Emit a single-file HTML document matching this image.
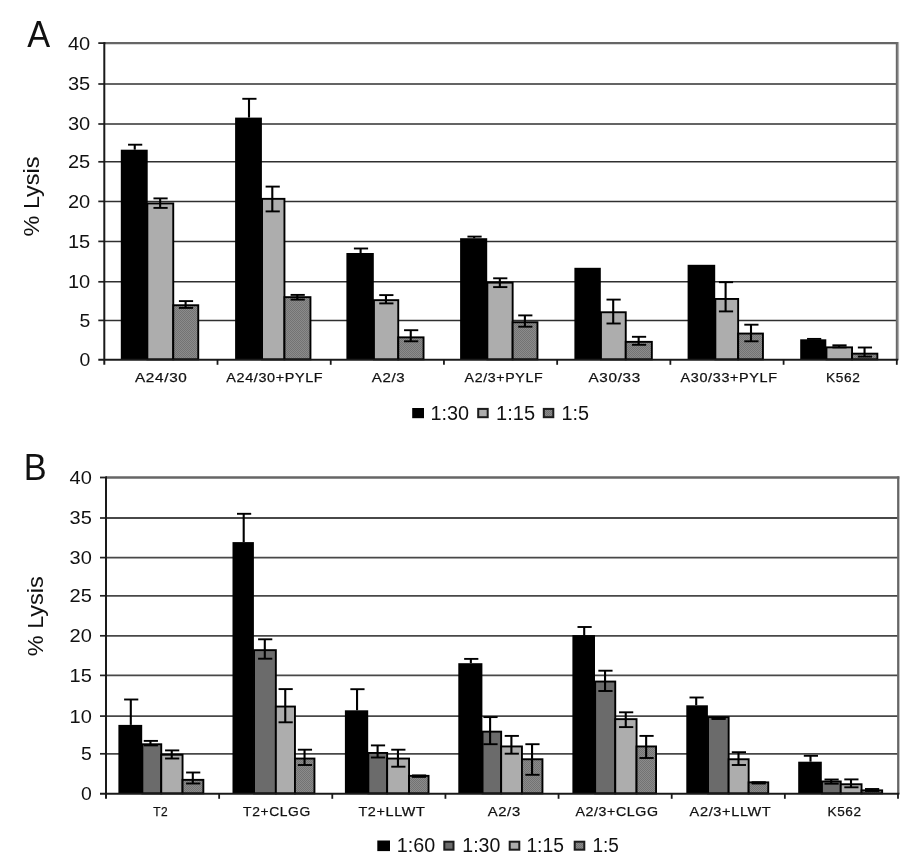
<!DOCTYPE html>
<html><head><meta charset="utf-8"><title>Figure</title>
<style>
html,body{margin:0;padding:0;background:#fff;}
body{width:917px;height:860px;overflow:hidden;font-family:"Liberation Sans", sans-serif;}
svg{display:block;position:absolute;left:0;top:0;will-change:transform;}
svg text{font-family:"Liberation Sans", sans-serif;fill:#111;}
</style></head>
<body>
<svg width="917" height="860" viewBox="0 0 917 860">
<defs>
<pattern id="tex" width="2" height="2" patternUnits="userSpaceOnUse">
<rect width="2" height="2" fill="#8b8b8b"/>
<rect width="1" height="1" fill="#737373"/>
<rect x="1" y="1" width="1" height="1" fill="#737373"/>
</pattern>
</defs>
<rect width="917" height="860" fill="#fff"/>
<line x1="104.3" y1="84.0" x2="896.8" y2="84.0" stroke="#303030" stroke-width="1.55"/>
<line x1="98.3" y1="84.0" x2="104.3" y2="84.0" stroke="#222" stroke-width="1.7"/>
<line x1="104.3" y1="124.0" x2="896.8" y2="124.0" stroke="#303030" stroke-width="1.55"/>
<line x1="98.3" y1="124.0" x2="104.3" y2="124.0" stroke="#222" stroke-width="1.7"/>
<line x1="104.3" y1="161.8" x2="896.8" y2="161.8" stroke="#303030" stroke-width="1.55"/>
<line x1="98.3" y1="161.8" x2="104.3" y2="161.8" stroke="#222" stroke-width="1.7"/>
<line x1="104.3" y1="201.4" x2="896.8" y2="201.4" stroke="#303030" stroke-width="1.55"/>
<line x1="98.3" y1="201.4" x2="104.3" y2="201.4" stroke="#222" stroke-width="1.7"/>
<line x1="104.3" y1="241.4" x2="896.8" y2="241.4" stroke="#303030" stroke-width="1.55"/>
<line x1="98.3" y1="241.4" x2="104.3" y2="241.4" stroke="#222" stroke-width="1.7"/>
<line x1="104.3" y1="281.8" x2="896.8" y2="281.8" stroke="#303030" stroke-width="1.55"/>
<line x1="98.3" y1="281.8" x2="104.3" y2="281.8" stroke="#222" stroke-width="1.7"/>
<line x1="104.3" y1="320.4" x2="896.8" y2="320.4" stroke="#303030" stroke-width="1.55"/>
<line x1="98.3" y1="320.4" x2="104.3" y2="320.4" stroke="#222" stroke-width="1.7"/>
<line x1="104.3" y1="43.1" x2="898.0999999999999" y2="43.1" stroke="#666" stroke-width="2.3"/>
<rect x="895.8" y="42.0" width="2.1" height="317.8" fill="#686868"/>
<rect x="897.9" y="42.0" width="1.2" height="317.8" fill="#b0b0b0"/>
<line x1="98.3" y1="43.1" x2="105.3" y2="43.1" stroke="#222" stroke-width="1.8"/>
<rect x="120.8" y="149.7" width="26.90" height="210.10" fill="#000"/>
<rect x="147.35" y="203.45" width="25.90" height="155.90" fill="#adadad" stroke="#000" stroke-width="1.9"/>
<rect x="173.25" y="305.25" width="25.00" height="54.10" fill="url(#tex)" stroke="#000" stroke-width="1.9"/>
<rect x="235.1" y="117.6" width="26.80" height="242.20" fill="#000"/>
<rect x="262.05" y="198.85" width="22.40" height="160.50" fill="#adadad" stroke="#000" stroke-width="1.9"/>
<rect x="284.45" y="297.15" width="26.00" height="62.20" fill="url(#tex)" stroke="#000" stroke-width="1.9"/>
<rect x="346.4" y="253.0" width="27.40" height="106.80" fill="#000"/>
<rect x="373.95" y="300.15" width="24.30" height="59.20" fill="#adadad" stroke="#000" stroke-width="1.9"/>
<rect x="398.25" y="337.35" width="25.30" height="22.00" fill="url(#tex)" stroke="#000" stroke-width="1.9"/>
<rect x="460.1" y="238.2" width="27.10" height="121.60" fill="#000"/>
<rect x="487.35" y="282.65" width="25.30" height="76.70" fill="#adadad" stroke="#000" stroke-width="1.9"/>
<rect x="512.65" y="322.25" width="24.80" height="37.10" fill="url(#tex)" stroke="#000" stroke-width="1.9"/>
<rect x="574.4" y="267.8" width="26.40" height="92.00" fill="#000"/>
<rect x="600.95" y="312.25" width="24.80" height="47.10" fill="#adadad" stroke="#000" stroke-width="1.9"/>
<rect x="625.75" y="341.85" width="26.10" height="17.50" fill="url(#tex)" stroke="#000" stroke-width="1.9"/>
<rect x="687.6" y="264.8" width="27.60" height="95.00" fill="#000"/>
<rect x="715.35" y="298.95" width="22.80" height="60.40" fill="#adadad" stroke="#000" stroke-width="1.9"/>
<rect x="738.15" y="333.55" width="24.80" height="25.80" fill="url(#tex)" stroke="#000" stroke-width="1.9"/>
<rect x="800.2" y="339.3" width="26.10" height="20.50" fill="#000"/>
<rect x="826.45" y="347.35" width="25.60" height="12.00" fill="#adadad" stroke="#000" stroke-width="1.9"/>
<rect x="852.05" y="353.65" width="25.30" height="5.70" fill="url(#tex)" stroke="#000" stroke-width="1.9"/>
<line x1="134.75" y1="144.7" x2="134.75" y2="149.7" stroke="#000" stroke-width="2.1"/>
<line x1="128.05" y1="144.7" x2="142.25" y2="144.7" stroke="#000" stroke-width="1.9"/>
<line x1="160.15" y1="198.4" x2="160.15" y2="207.9" stroke="#000" stroke-width="2.1"/>
<line x1="153.45" y1="198.4" x2="167.65" y2="198.4" stroke="#000" stroke-width="1.9"/>
<line x1="153.45" y1="207.9" x2="167.65" y2="207.9" stroke="#000" stroke-width="1.9"/>
<line x1="185.60" y1="301.1" x2="185.60" y2="307.9" stroke="#000" stroke-width="2.1"/>
<line x1="178.90" y1="301.1" x2="193.10" y2="301.1" stroke="#000" stroke-width="1.9"/>
<line x1="178.90" y1="307.9" x2="193.10" y2="307.9" stroke="#000" stroke-width="1.9"/>
<line x1="249.00" y1="98.8" x2="249.00" y2="117.6" stroke="#000" stroke-width="2.1"/>
<line x1="242.30" y1="98.8" x2="256.50" y2="98.8" stroke="#000" stroke-width="1.9"/>
<line x1="272.30" y1="186.6" x2="272.30" y2="211.4" stroke="#000" stroke-width="2.1"/>
<line x1="265.60" y1="186.6" x2="279.80" y2="186.6" stroke="#000" stroke-width="1.9"/>
<line x1="265.60" y1="211.4" x2="279.80" y2="211.4" stroke="#000" stroke-width="1.9"/>
<line x1="297.30" y1="294.9" x2="297.30" y2="299.6" stroke="#000" stroke-width="2.1"/>
<line x1="290.60" y1="294.9" x2="304.80" y2="294.9" stroke="#000" stroke-width="1.9"/>
<line x1="290.60" y1="299.6" x2="304.80" y2="299.6" stroke="#000" stroke-width="1.9"/>
<line x1="360.60" y1="248.5" x2="360.60" y2="253.0" stroke="#000" stroke-width="2.1"/>
<line x1="353.90" y1="248.5" x2="368.10" y2="248.5" stroke="#000" stroke-width="1.9"/>
<line x1="385.95" y1="295.1" x2="385.95" y2="303.4" stroke="#000" stroke-width="2.1"/>
<line x1="379.25" y1="295.1" x2="393.45" y2="295.1" stroke="#000" stroke-width="1.9"/>
<line x1="379.25" y1="303.4" x2="393.45" y2="303.4" stroke="#000" stroke-width="1.9"/>
<line x1="410.75" y1="330.2" x2="410.75" y2="341.3" stroke="#000" stroke-width="2.1"/>
<line x1="404.05" y1="330.2" x2="418.25" y2="330.2" stroke="#000" stroke-width="1.9"/>
<line x1="404.05" y1="341.3" x2="418.25" y2="341.3" stroke="#000" stroke-width="1.9"/>
<line x1="474.15" y1="236.6" x2="474.15" y2="238.2" stroke="#000" stroke-width="2.1"/>
<line x1="467.45" y1="236.6" x2="481.65" y2="236.6" stroke="#000" stroke-width="1.9"/>
<line x1="499.85" y1="278.3" x2="499.85" y2="287.1" stroke="#000" stroke-width="2.1"/>
<line x1="493.15" y1="278.3" x2="507.35" y2="278.3" stroke="#000" stroke-width="1.9"/>
<line x1="493.15" y1="287.1" x2="507.35" y2="287.1" stroke="#000" stroke-width="1.9"/>
<line x1="524.90" y1="315.4" x2="524.90" y2="326.7" stroke="#000" stroke-width="2.1"/>
<line x1="518.20" y1="315.4" x2="532.40" y2="315.4" stroke="#000" stroke-width="1.9"/>
<line x1="518.20" y1="326.7" x2="532.40" y2="326.7" stroke="#000" stroke-width="1.9"/>
<line x1="613.20" y1="299.6" x2="613.20" y2="323.5" stroke="#000" stroke-width="2.1"/>
<line x1="606.50" y1="299.6" x2="620.70" y2="299.6" stroke="#000" stroke-width="1.9"/>
<line x1="606.50" y1="323.5" x2="620.70" y2="323.5" stroke="#000" stroke-width="1.9"/>
<line x1="638.65" y1="336.8" x2="638.65" y2="344.8" stroke="#000" stroke-width="2.1"/>
<line x1="631.95" y1="336.8" x2="646.15" y2="336.8" stroke="#000" stroke-width="1.9"/>
<line x1="631.95" y1="344.8" x2="646.15" y2="344.8" stroke="#000" stroke-width="1.9"/>
<line x1="725.60" y1="282.2" x2="725.60" y2="311.4" stroke="#000" stroke-width="2.1"/>
<line x1="718.90" y1="282.2" x2="733.10" y2="282.2" stroke="#000" stroke-width="1.9"/>
<line x1="718.90" y1="311.4" x2="733.10" y2="311.4" stroke="#000" stroke-width="1.9"/>
<line x1="751.00" y1="324.7" x2="751.00" y2="341.3" stroke="#000" stroke-width="2.1"/>
<line x1="744.30" y1="324.7" x2="758.50" y2="324.7" stroke="#000" stroke-width="1.9"/>
<line x1="744.30" y1="341.3" x2="758.50" y2="341.3" stroke="#000" stroke-width="1.9"/>
<line x1="813.75" y1="338.9" x2="813.75" y2="339.3" stroke="#000" stroke-width="2.1"/>
<line x1="807.05" y1="338.9" x2="821.25" y2="338.9" stroke="#000" stroke-width="1.9"/>
<line x1="839.10" y1="345.3" x2="839.10" y2="347.4" stroke="#000" stroke-width="2.1"/>
<line x1="832.40" y1="345.3" x2="846.60" y2="345.3" stroke="#000" stroke-width="1.9"/>
<line x1="832.40" y1="347.4" x2="846.60" y2="347.4" stroke="#000" stroke-width="1.9"/>
<line x1="864.55" y1="347.5" x2="864.55" y2="356.6" stroke="#000" stroke-width="2.1"/>
<line x1="857.85" y1="347.5" x2="872.05" y2="347.5" stroke="#000" stroke-width="1.9"/>
<line x1="857.85" y1="356.6" x2="872.05" y2="356.6" stroke="#000" stroke-width="1.9"/>
<line x1="104.3" y1="42.2" x2="104.3" y2="364.8" stroke="#1a1a1a" stroke-width="2"/>
<line x1="98.3" y1="359.8" x2="898.1999999999999" y2="359.8" stroke="#1a1a1a" stroke-width="1.9"/>
<line x1="217.51" y1="359.8" x2="217.51" y2="364.8" stroke="#1a1a1a" stroke-width="1.8"/>
<line x1="330.73" y1="359.8" x2="330.73" y2="364.8" stroke="#1a1a1a" stroke-width="1.8"/>
<line x1="443.94" y1="359.8" x2="443.94" y2="364.8" stroke="#1a1a1a" stroke-width="1.8"/>
<line x1="557.16" y1="359.8" x2="557.16" y2="364.8" stroke="#1a1a1a" stroke-width="1.8"/>
<line x1="670.37" y1="359.8" x2="670.37" y2="364.8" stroke="#1a1a1a" stroke-width="1.8"/>
<line x1="783.59" y1="359.8" x2="783.59" y2="364.8" stroke="#1a1a1a" stroke-width="1.8"/>
<line x1="896.80" y1="359.8" x2="896.80" y2="364.8" stroke="#1a1a1a" stroke-width="1.8"/>
<text x="90.2" y="49.5" font-size="17.6" text-anchor="end" textLength="22.3" lengthAdjust="spacingAndGlyphs">40</text>
<text x="90.2" y="90.4" font-size="17.6" text-anchor="end" textLength="22.3" lengthAdjust="spacingAndGlyphs">35</text>
<text x="90.2" y="130.4" font-size="17.6" text-anchor="end" textLength="22.3" lengthAdjust="spacingAndGlyphs">30</text>
<text x="90.2" y="168.2" font-size="17.6" text-anchor="end" textLength="22.3" lengthAdjust="spacingAndGlyphs">25</text>
<text x="90.2" y="207.8" font-size="17.6" text-anchor="end" textLength="22.3" lengthAdjust="spacingAndGlyphs">20</text>
<text x="90.2" y="247.8" font-size="17.6" text-anchor="end" textLength="22.3" lengthAdjust="spacingAndGlyphs">15</text>
<text x="90.2" y="288.2" font-size="17.6" text-anchor="end" textLength="22.3" lengthAdjust="spacingAndGlyphs">10</text>
<text x="90.2" y="326.8" font-size="17.6" text-anchor="end" textLength="10.8" lengthAdjust="spacingAndGlyphs">5</text>
<text x="90.2" y="366.2" font-size="17.6" text-anchor="end" textLength="10.8" lengthAdjust="spacingAndGlyphs">0</text>
<text x="135.0" y="382.4" font-size="13.6" letter-spacing="0.6" stroke="#111" stroke-width="0.25" textLength="52.5" lengthAdjust="spacingAndGlyphs">A24/30</text>
<text x="226.3" y="382.4" font-size="13.6" letter-spacing="0.6" stroke="#111" stroke-width="0.25" textLength="97.0" lengthAdjust="spacingAndGlyphs">A24/30+PYLF</text>
<text x="371.7" y="382.4" font-size="13.6" letter-spacing="0.6" stroke="#111" stroke-width="0.25" textLength="33.6" lengthAdjust="spacingAndGlyphs">A2/3</text>
<text x="464.6" y="382.4" font-size="13.6" letter-spacing="0.6" stroke="#111" stroke-width="0.25" textLength="78.7" lengthAdjust="spacingAndGlyphs">A2/3+PYLF</text>
<text x="588.5" y="382.4" font-size="13.6" letter-spacing="0.6" stroke="#111" stroke-width="0.25" textLength="52.4" lengthAdjust="spacingAndGlyphs">A30/33</text>
<text x="680.6" y="382.4" font-size="13.6" letter-spacing="0.6" stroke="#111" stroke-width="0.25" textLength="97.0" lengthAdjust="spacingAndGlyphs">A30/33+PYLF</text>
<text x="826.0" y="382.4" font-size="13.6" letter-spacing="0.6" stroke="#111" stroke-width="0.25" textLength="34.4" lengthAdjust="spacingAndGlyphs">K562</text>
<text transform="translate(39.3,196.5) rotate(-90)" font-size="22.2" text-anchor="middle" textLength="80" lengthAdjust="spacingAndGlyphs">% Lysis</text>
<text transform="translate(27.2,46.6) scale(0.91,1)" font-size="37.7">A</text>
<rect x="412.2" y="408.0" width="11.8" height="10.2" fill="#000"/>
<text x="430.54" y="419.5" font-size="19.3" textLength="38.59" lengthAdjust="spacingAndGlyphs">1:30</text>
<rect x="478.2" y="408.9" width="9.5" height="8.3" fill="#adadad" stroke="#1c1c1c" stroke-width="2.0"/>
<text x="496.12" y="419.5" font-size="19.3" textLength="38.99" lengthAdjust="spacingAndGlyphs">1:15</text>
<rect x="543.8" y="408.9" width="9.5" height="8.3" fill="url(#tex)" stroke="#1c1c1c" stroke-width="2.0"/>
<text x="561.44" y="419.5" font-size="19.3" textLength="27.55" lengthAdjust="spacingAndGlyphs">1:5</text>
<line x1="106.0" y1="518.0" x2="898.0" y2="518.0" stroke="#484848" stroke-width="1.85"/>
<line x1="100.0" y1="518.0" x2="106.0" y2="518.0" stroke="#222" stroke-width="1.7"/>
<line x1="106.0" y1="557.6" x2="898.0" y2="557.6" stroke="#484848" stroke-width="1.85"/>
<line x1="100.0" y1="557.6" x2="106.0" y2="557.6" stroke="#222" stroke-width="1.7"/>
<line x1="106.0" y1="595.8" x2="898.0" y2="595.8" stroke="#484848" stroke-width="1.85"/>
<line x1="100.0" y1="595.8" x2="106.0" y2="595.8" stroke="#222" stroke-width="1.7"/>
<line x1="106.0" y1="635.8" x2="898.0" y2="635.8" stroke="#484848" stroke-width="1.85"/>
<line x1="100.0" y1="635.8" x2="106.0" y2="635.8" stroke="#222" stroke-width="1.7"/>
<line x1="106.0" y1="675.4" x2="898.0" y2="675.4" stroke="#484848" stroke-width="1.85"/>
<line x1="100.0" y1="675.4" x2="106.0" y2="675.4" stroke="#222" stroke-width="1.7"/>
<line x1="106.0" y1="716.1" x2="898.0" y2="716.1" stroke="#484848" stroke-width="1.85"/>
<line x1="100.0" y1="716.1" x2="106.0" y2="716.1" stroke="#222" stroke-width="1.7"/>
<line x1="106.0" y1="753.8" x2="898.0" y2="753.8" stroke="#484848" stroke-width="1.85"/>
<line x1="100.0" y1="753.8" x2="106.0" y2="753.8" stroke="#222" stroke-width="1.7"/>
<line x1="106.0" y1="477.5" x2="899.3" y2="477.5" stroke="#666" stroke-width="2.3"/>
<rect x="897.1" y="476.4" width="2.3" height="317.4" fill="#666"/>
<line x1="100.0" y1="477.5" x2="107.0" y2="477.5" stroke="#222" stroke-width="1.8"/>
<rect x="118.4" y="724.9" width="23.80" height="68.90" fill="#000"/>
<rect x="142.35" y="744.25" width="18.90" height="49.10" fill="#6b6b6b" stroke="#000" stroke-width="1.9"/>
<rect x="161.25" y="754.75" width="21.30" height="38.60" fill="#adadad" stroke="#000" stroke-width="1.9"/>
<rect x="182.55" y="779.85" width="20.80" height="13.50" fill="url(#tex)" stroke="#000" stroke-width="1.9"/>
<rect x="232.5" y="542.1" width="21.40" height="251.70" fill="#000"/>
<rect x="254.05" y="650.15" width="21.80" height="143.20" fill="#6b6b6b" stroke="#000" stroke-width="1.9"/>
<rect x="275.85" y="706.55" width="19.10" height="86.80" fill="#adadad" stroke="#000" stroke-width="1.9"/>
<rect x="294.95" y="758.55" width="19.50" height="34.80" fill="url(#tex)" stroke="#000" stroke-width="1.9"/>
<rect x="344.9" y="710.3" width="23.30" height="83.50" fill="#000"/>
<rect x="368.35" y="752.95" width="18.80" height="40.40" fill="#6b6b6b" stroke="#000" stroke-width="1.9"/>
<rect x="387.15" y="758.55" width="21.90" height="34.80" fill="#adadad" stroke="#000" stroke-width="1.9"/>
<rect x="409.05" y="775.85" width="19.50" height="17.50" fill="url(#tex)" stroke="#000" stroke-width="1.9"/>
<rect x="458.3" y="663.2" width="24.10" height="130.60" fill="#000"/>
<rect x="482.55" y="731.65" width="18.60" height="61.70" fill="#6b6b6b" stroke="#000" stroke-width="1.9"/>
<rect x="501.15" y="746.45" width="20.80" height="46.90" fill="#adadad" stroke="#000" stroke-width="1.9"/>
<rect x="521.95" y="759.25" width="20.50" height="34.10" fill="url(#tex)" stroke="#000" stroke-width="1.9"/>
<rect x="572.4" y="635.1" width="22.60" height="158.70" fill="#000"/>
<rect x="595.15" y="681.55" width="20.10" height="111.80" fill="#6b6b6b" stroke="#000" stroke-width="1.9"/>
<rect x="615.25" y="719.15" width="21.30" height="74.20" fill="#adadad" stroke="#000" stroke-width="1.9"/>
<rect x="636.55" y="746.45" width="19.50" height="46.90" fill="url(#tex)" stroke="#000" stroke-width="1.9"/>
<rect x="686.3" y="705.3" width="21.60" height="88.50" fill="#000"/>
<rect x="708.05" y="717.15" width="20.60" height="76.20" fill="#6b6b6b" stroke="#000" stroke-width="1.9"/>
<rect x="728.65" y="759.25" width="20.00" height="34.10" fill="#adadad" stroke="#000" stroke-width="1.9"/>
<rect x="748.65" y="782.35" width="19.60" height="11.00" fill="url(#tex)" stroke="#000" stroke-width="1.9"/>
<rect x="798.2" y="761.7" width="23.60" height="32.10" fill="#000"/>
<rect x="821.95" y="781.45" width="18.80" height="11.90" fill="#6b6b6b" stroke="#000" stroke-width="1.9"/>
<rect x="840.75" y="784.25" width="20.80" height="9.10" fill="#adadad" stroke="#000" stroke-width="1.9"/>
<rect x="861.55" y="790.35" width="20.60" height="3.00" fill="url(#tex)" stroke="#000" stroke-width="1.9"/>
<line x1="130.80" y1="699.5" x2="130.80" y2="724.9" stroke="#000" stroke-width="2.1"/>
<line x1="124.10" y1="699.5" x2="138.30" y2="699.5" stroke="#000" stroke-width="1.9"/>
<line x1="150.45" y1="740.9" x2="150.45" y2="745.4" stroke="#000" stroke-width="2.1"/>
<line x1="143.75" y1="740.9" x2="157.95" y2="740.9" stroke="#000" stroke-width="1.9"/>
<line x1="143.75" y1="745.4" x2="157.95" y2="745.4" stroke="#000" stroke-width="1.9"/>
<line x1="171.75" y1="750.4" x2="171.75" y2="758.5" stroke="#000" stroke-width="2.1"/>
<line x1="165.05" y1="750.4" x2="179.25" y2="750.4" stroke="#000" stroke-width="1.9"/>
<line x1="165.05" y1="758.5" x2="179.25" y2="758.5" stroke="#000" stroke-width="1.9"/>
<line x1="192.80" y1="772.5" x2="192.80" y2="783.5" stroke="#000" stroke-width="2.1"/>
<line x1="186.10" y1="772.5" x2="200.30" y2="772.5" stroke="#000" stroke-width="1.9"/>
<line x1="186.10" y1="783.5" x2="200.30" y2="783.5" stroke="#000" stroke-width="1.9"/>
<line x1="243.70" y1="513.8" x2="243.70" y2="542.1" stroke="#000" stroke-width="2.1"/>
<line x1="237.00" y1="513.8" x2="251.20" y2="513.8" stroke="#000" stroke-width="1.9"/>
<line x1="264.80" y1="639.3" x2="264.80" y2="658.7" stroke="#000" stroke-width="2.1"/>
<line x1="258.10" y1="639.3" x2="272.30" y2="639.3" stroke="#000" stroke-width="1.9"/>
<line x1="258.10" y1="658.7" x2="272.30" y2="658.7" stroke="#000" stroke-width="1.9"/>
<line x1="285.25" y1="689.1" x2="285.25" y2="722.3" stroke="#000" stroke-width="2.1"/>
<line x1="278.55" y1="689.1" x2="292.75" y2="689.1" stroke="#000" stroke-width="1.9"/>
<line x1="278.55" y1="722.3" x2="292.75" y2="722.3" stroke="#000" stroke-width="1.9"/>
<line x1="304.55" y1="749.7" x2="304.55" y2="765.0" stroke="#000" stroke-width="2.1"/>
<line x1="297.85" y1="749.7" x2="312.05" y2="749.7" stroke="#000" stroke-width="1.9"/>
<line x1="297.85" y1="765.0" x2="312.05" y2="765.0" stroke="#000" stroke-width="1.9"/>
<line x1="357.05" y1="689.2" x2="357.05" y2="710.3" stroke="#000" stroke-width="2.1"/>
<line x1="350.35" y1="689.2" x2="364.55" y2="689.2" stroke="#000" stroke-width="1.9"/>
<line x1="377.60" y1="745.4" x2="377.60" y2="757.5" stroke="#000" stroke-width="2.1"/>
<line x1="370.90" y1="745.4" x2="385.10" y2="745.4" stroke="#000" stroke-width="1.9"/>
<line x1="370.90" y1="757.5" x2="385.10" y2="757.5" stroke="#000" stroke-width="1.9"/>
<line x1="397.95" y1="749.7" x2="397.95" y2="766.7" stroke="#000" stroke-width="2.1"/>
<line x1="391.25" y1="749.7" x2="405.45" y2="749.7" stroke="#000" stroke-width="1.9"/>
<line x1="391.25" y1="766.7" x2="405.45" y2="766.7" stroke="#000" stroke-width="1.9"/>
<line x1="418.65" y1="775.4" x2="418.65" y2="776.9" stroke="#000" stroke-width="2.1"/>
<line x1="411.95" y1="775.4" x2="426.15" y2="775.4" stroke="#000" stroke-width="1.9"/>
<line x1="411.95" y1="776.9" x2="426.15" y2="776.9" stroke="#000" stroke-width="1.9"/>
<line x1="470.85" y1="658.9" x2="470.85" y2="663.2" stroke="#000" stroke-width="2.1"/>
<line x1="464.15" y1="658.9" x2="478.35" y2="658.9" stroke="#000" stroke-width="1.9"/>
<line x1="490.10" y1="717.1" x2="490.10" y2="744.2" stroke="#000" stroke-width="2.1"/>
<line x1="483.40" y1="717.1" x2="497.60" y2="717.1" stroke="#000" stroke-width="1.9"/>
<line x1="483.40" y1="744.2" x2="497.60" y2="744.2" stroke="#000" stroke-width="1.9"/>
<line x1="511.40" y1="735.9" x2="511.40" y2="753.7" stroke="#000" stroke-width="2.1"/>
<line x1="504.70" y1="735.9" x2="518.90" y2="735.9" stroke="#000" stroke-width="1.9"/>
<line x1="504.70" y1="753.7" x2="518.90" y2="753.7" stroke="#000" stroke-width="1.9"/>
<line x1="532.05" y1="744.2" x2="532.05" y2="774.8" stroke="#000" stroke-width="2.1"/>
<line x1="525.35" y1="744.2" x2="539.55" y2="744.2" stroke="#000" stroke-width="1.9"/>
<line x1="525.35" y1="774.8" x2="539.55" y2="774.8" stroke="#000" stroke-width="1.9"/>
<line x1="584.20" y1="627.0" x2="584.20" y2="635.1" stroke="#000" stroke-width="2.1"/>
<line x1="577.50" y1="627.0" x2="591.70" y2="627.0" stroke="#000" stroke-width="1.9"/>
<line x1="605.05" y1="670.7" x2="605.05" y2="691.0" stroke="#000" stroke-width="2.1"/>
<line x1="598.35" y1="670.7" x2="612.55" y2="670.7" stroke="#000" stroke-width="1.9"/>
<line x1="598.35" y1="691.0" x2="612.55" y2="691.0" stroke="#000" stroke-width="1.9"/>
<line x1="625.75" y1="712.3" x2="625.75" y2="727.1" stroke="#000" stroke-width="2.1"/>
<line x1="619.05" y1="712.3" x2="633.25" y2="712.3" stroke="#000" stroke-width="1.9"/>
<line x1="619.05" y1="727.1" x2="633.25" y2="727.1" stroke="#000" stroke-width="1.9"/>
<line x1="646.15" y1="735.9" x2="646.15" y2="758.0" stroke="#000" stroke-width="2.1"/>
<line x1="639.45" y1="735.9" x2="653.65" y2="735.9" stroke="#000" stroke-width="1.9"/>
<line x1="639.45" y1="758.0" x2="653.65" y2="758.0" stroke="#000" stroke-width="1.9"/>
<line x1="696.20" y1="697.5" x2="696.20" y2="705.3" stroke="#000" stroke-width="2.1"/>
<line x1="689.50" y1="697.5" x2="703.70" y2="697.5" stroke="#000" stroke-width="1.9"/>
<line x1="718.20" y1="717.6" x2="718.20" y2="719.0" stroke="#000" stroke-width="2.1"/>
<line x1="711.50" y1="717.6" x2="725.70" y2="717.6" stroke="#000" stroke-width="1.9"/>
<line x1="711.50" y1="719.0" x2="725.70" y2="719.0" stroke="#000" stroke-width="1.9"/>
<line x1="738.50" y1="752.2" x2="738.50" y2="765.0" stroke="#000" stroke-width="2.1"/>
<line x1="731.80" y1="752.2" x2="746.00" y2="752.2" stroke="#000" stroke-width="1.9"/>
<line x1="731.80" y1="765.0" x2="746.00" y2="765.0" stroke="#000" stroke-width="1.9"/>
<line x1="758.30" y1="782.2" x2="758.30" y2="783.5" stroke="#000" stroke-width="2.1"/>
<line x1="751.60" y1="782.2" x2="765.80" y2="782.2" stroke="#000" stroke-width="1.9"/>
<line x1="751.60" y1="783.5" x2="765.80" y2="783.5" stroke="#000" stroke-width="1.9"/>
<line x1="810.50" y1="755.8" x2="810.50" y2="761.7" stroke="#000" stroke-width="2.1"/>
<line x1="803.80" y1="755.8" x2="818.00" y2="755.8" stroke="#000" stroke-width="1.9"/>
<line x1="831.20" y1="779.5" x2="831.20" y2="783.7" stroke="#000" stroke-width="2.1"/>
<line x1="824.50" y1="779.5" x2="838.70" y2="779.5" stroke="#000" stroke-width="1.9"/>
<line x1="824.50" y1="783.7" x2="838.70" y2="783.7" stroke="#000" stroke-width="1.9"/>
<line x1="851.00" y1="779.4" x2="851.00" y2="787.3" stroke="#000" stroke-width="2.1"/>
<line x1="844.30" y1="779.4" x2="858.50" y2="779.4" stroke="#000" stroke-width="1.9"/>
<line x1="844.30" y1="787.3" x2="858.50" y2="787.3" stroke="#000" stroke-width="1.9"/>
<line x1="871.70" y1="789.0" x2="871.70" y2="791.0" stroke="#000" stroke-width="2.1"/>
<line x1="865.00" y1="789.0" x2="879.20" y2="789.0" stroke="#000" stroke-width="1.9"/>
<line x1="865.00" y1="791.0" x2="879.20" y2="791.0" stroke="#000" stroke-width="1.9"/>
<line x1="106.0" y1="476.6" x2="106.0" y2="798.8" stroke="#1a1a1a" stroke-width="2"/>
<line x1="100.0" y1="793.8" x2="899.4" y2="793.8" stroke="#1a1a1a" stroke-width="1.9"/>
<line x1="219.14" y1="793.8" x2="219.14" y2="798.8" stroke="#1a1a1a" stroke-width="1.8"/>
<line x1="332.29" y1="793.8" x2="332.29" y2="798.8" stroke="#1a1a1a" stroke-width="1.8"/>
<line x1="445.43" y1="793.8" x2="445.43" y2="798.8" stroke="#1a1a1a" stroke-width="1.8"/>
<line x1="558.57" y1="793.8" x2="558.57" y2="798.8" stroke="#1a1a1a" stroke-width="1.8"/>
<line x1="671.71" y1="793.8" x2="671.71" y2="798.8" stroke="#1a1a1a" stroke-width="1.8"/>
<line x1="784.86" y1="793.8" x2="784.86" y2="798.8" stroke="#1a1a1a" stroke-width="1.8"/>
<line x1="898.00" y1="793.8" x2="898.00" y2="798.8" stroke="#1a1a1a" stroke-width="1.8"/>
<text x="91.9" y="483.9" font-size="17.6" text-anchor="end" textLength="22.3" lengthAdjust="spacingAndGlyphs">40</text>
<text x="91.9" y="524.4" font-size="17.6" text-anchor="end" textLength="22.3" lengthAdjust="spacingAndGlyphs">35</text>
<text x="91.9" y="564.0" font-size="17.6" text-anchor="end" textLength="22.3" lengthAdjust="spacingAndGlyphs">30</text>
<text x="91.9" y="602.2" font-size="17.6" text-anchor="end" textLength="22.3" lengthAdjust="spacingAndGlyphs">25</text>
<text x="91.9" y="642.2" font-size="17.6" text-anchor="end" textLength="22.3" lengthAdjust="spacingAndGlyphs">20</text>
<text x="91.9" y="681.8" font-size="17.6" text-anchor="end" textLength="22.3" lengthAdjust="spacingAndGlyphs">15</text>
<text x="91.9" y="722.5" font-size="17.6" text-anchor="end" textLength="22.3" lengthAdjust="spacingAndGlyphs">10</text>
<text x="91.9" y="760.2" font-size="17.6" text-anchor="end" textLength="10.8" lengthAdjust="spacingAndGlyphs">5</text>
<text x="91.9" y="800.2" font-size="17.6" text-anchor="end" textLength="10.8" lengthAdjust="spacingAndGlyphs">0</text>
<text x="153.3" y="816.4" font-size="13.6" letter-spacing="0.6" stroke="#111" stroke-width="0.25" textLength="15.0" lengthAdjust="spacingAndGlyphs">T2</text>
<text x="243.1" y="816.4" font-size="13.6" letter-spacing="0.6" stroke="#111" stroke-width="0.25" textLength="67.7" lengthAdjust="spacingAndGlyphs">T2+CLGG</text>
<text x="358.4" y="816.4" font-size="13.6" letter-spacing="0.6" stroke="#111" stroke-width="0.25" textLength="67.0" lengthAdjust="spacingAndGlyphs">T2+LLWT</text>
<text x="487.7" y="816.4" font-size="13.6" letter-spacing="0.6" stroke="#111" stroke-width="0.25" textLength="33.1" lengthAdjust="spacingAndGlyphs">A2/3</text>
<text x="575.4" y="816.4" font-size="13.6" letter-spacing="0.6" stroke="#111" stroke-width="0.25" textLength="83.3" lengthAdjust="spacingAndGlyphs">A2/3+CLGG</text>
<text x="689.6" y="816.4" font-size="13.6" letter-spacing="0.6" stroke="#111" stroke-width="0.25" textLength="81.8" lengthAdjust="spacingAndGlyphs">A2/3+LLWT</text>
<text x="827.5" y="816.4" font-size="13.6" letter-spacing="0.6" stroke="#111" stroke-width="0.25" textLength="34.1" lengthAdjust="spacingAndGlyphs">K562</text>
<text transform="translate(42.6,616.2) rotate(-90)" font-size="22.2" text-anchor="middle" textLength="80" lengthAdjust="spacingAndGlyphs">% Lysis</text>
<text transform="translate(23.8,480.3) scale(0.91,1)" font-size="37.7">B</text>
<rect x="377.3" y="840.5" width="12.7" height="10.6" fill="#000"/>
<text x="396.75" y="852.3" font-size="19.3" textLength="38.38" lengthAdjust="spacingAndGlyphs">1:60</text>
<rect x="444.3" y="841.7" width="9.2" height="8.0" fill="#6b6b6b" stroke="#1c1c1c" stroke-width="2.0"/>
<text x="462.27" y="852.3" font-size="19.3" textLength="38.05" lengthAdjust="spacingAndGlyphs">1:30</text>
<rect x="509.7" y="841.7" width="9.6" height="8.0" fill="#adadad" stroke="#1c1c1c" stroke-width="2.0"/>
<text x="526.40" y="852.3" font-size="19.3" textLength="37.46" lengthAdjust="spacingAndGlyphs">1:15</text>
<rect x="574.7" y="841.7" width="9.6" height="8.0" fill="url(#tex)" stroke="#1c1c1c" stroke-width="2.0"/>
<text x="592.43" y="852.3" font-size="19.3" textLength="26.43" lengthAdjust="spacingAndGlyphs">1:5</text>
</svg>
</body></html>
